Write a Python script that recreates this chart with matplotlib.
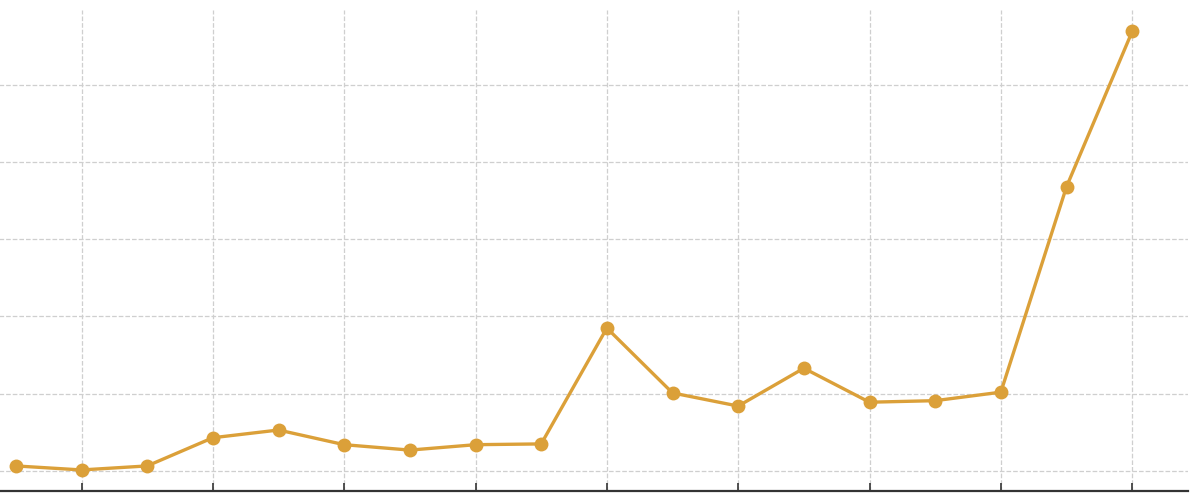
import matplotlib
matplotlib.use("Agg")
import matplotlib.pyplot as plt

# series (tick labels are cropped away, units are grid steps)
periods = list(range(18))
values = [0.065, 0.013, 0.065, 0.43, 0.53, 0.34, 0.27, 0.34, 0.35,
          1.85, 1.01, 0.84, 1.33, 0.89, 0.91, 1.02, 3.68, 5.69]
tick_positions = periods[1::2]
grid_levels = [0, 1, 2, 3, 4, 5]

fig = plt.figure(figsize=(12, 4.93), dpi=100)
# the reference is a crop: the axes run past the left edge and the title is cut off
ax = fig.add_axes([-0.0333, 0.004, 1.0233, 0.976])

ax.plot(periods, values, "-o", color="#DBA039", lw=2.4, ms=10,
        markeredgewidth=0, zorder=3)

ax.set_xlim(-0.85, 17.85)
ax.set_ylim(-0.26, 5.97)
ax.set_xticks(tick_positions)
ax.set_yticks(grid_levels)
ax.tick_params(axis="x", direction="in", length=6, width=1.2, color="#333333",
               labelbottom=False)
ax.tick_params(axis="y", length=0, labelleft=False)
ax.grid(True, ls="--", color="#cfcfcf", lw=0.9)
ax.set_axisbelow(True)

for side in ("top", "right", "left"):
    ax.spines[side].set_visible(False)
ax.spines["bottom"].set_color("#333333")
ax.spines["bottom"].set_linewidth(1.6)

fig.savefig("out.png", dpi=100)
